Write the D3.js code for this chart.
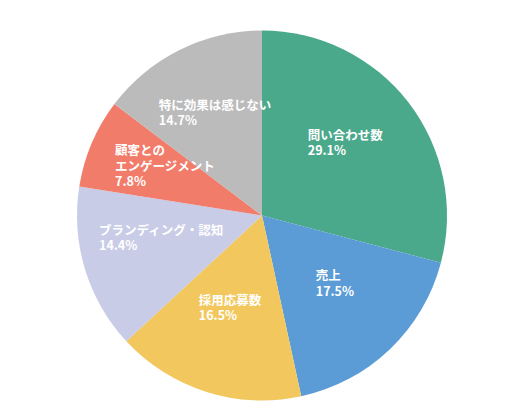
<!DOCTYPE html>
<html>
<head>
<meta charset="utf-8">
<script src="https://cdn.jsdelivr.net/npm/d3@7"></script>
<style>
  html, body { margin: 0; padding: 0; background: #fff; }
  svg text { font-family: "Noto Sans CJK JP", "Noto Sans", sans-serif; }
</style>
</head>
<body>
<svg id="canvas"></svg>
<script>
// slice labels (multi-line split by "\n"), shares in %, colours
var labels = ["問い合わせ数", "売上", "採用応募数", "ブランディング・認知", "顧客との\nエンゲージメント", "特に効果は感じない"];
var values = [29.1, 17.5, 16.5, 14.4, 7.8, 14.7];
var colors = ["#4aa88b", "#5b9bd6", "#f2c85e", "#c8cce6", "#f27c6a", "#bbbbbb"];

var width = 509, height = 410,
    cx = 262, cy = 215.5,
    radius = 185;

var svg = d3.select("#canvas")
    .attr("width", width)
    .attr("height", height);

var g = svg.append("g")
    .attr("transform", "translate(" + cx + "," + cy + ")");

var data = labels.map(function(l, i) {
    return {label: l, value: values[i], color: colors[i]};
});

var pie = d3.pie()
    .sort(null)
    .value(function(d) { return d.value; });

var arc = d3.arc()
    .innerRadius(0)
    .outerRadius(radius);

// labels sit around 57% of the radius
var labelArc = d3.arc()
    .innerRadius(radius * 0.57)
    .outerRadius(radius * 0.57);

var arcs = pie(data);

g.selectAll("path.slice")
    .data(arcs)
    .enter()
    .append("path")
    .attr("class", "slice")
    .attr("d", arc)
    .attr("fill", function(d) { return d.data.color; });

var lineH = 15.5;

var lab = g.selectAll("g.lab")
    .data(arcs)
    .enter()
    .append("g")
    .attr("class", "lab");

// text block centred on the centroid, nudged up a little like the original
lab.each(function(d) {
    var el = d3.select(this);
    var lines = d.data.label.split("\n").concat([d.data.value.toFixed(1) + "%"]);
    var t = el.append("text")
        .attr("fill", "#fff")
        .style("font-size", "12.5px")
        .style("font-weight", "bold");
    lines.forEach(function(s, i) {
        t.append("tspan")
            .attr("x", 0)
            .attr("y", i * lineH)
            .text(s);
    });
    var bb = t.node().getBBox();
    var c = labelArc.centroid(d);
    el.attr("transform", "translate(" + (c[0] - bb.width / 2) + "," + (c[1] - bb.height / 2 - bb.y - 9) + ")");
});
</script>
</body>
</html>
